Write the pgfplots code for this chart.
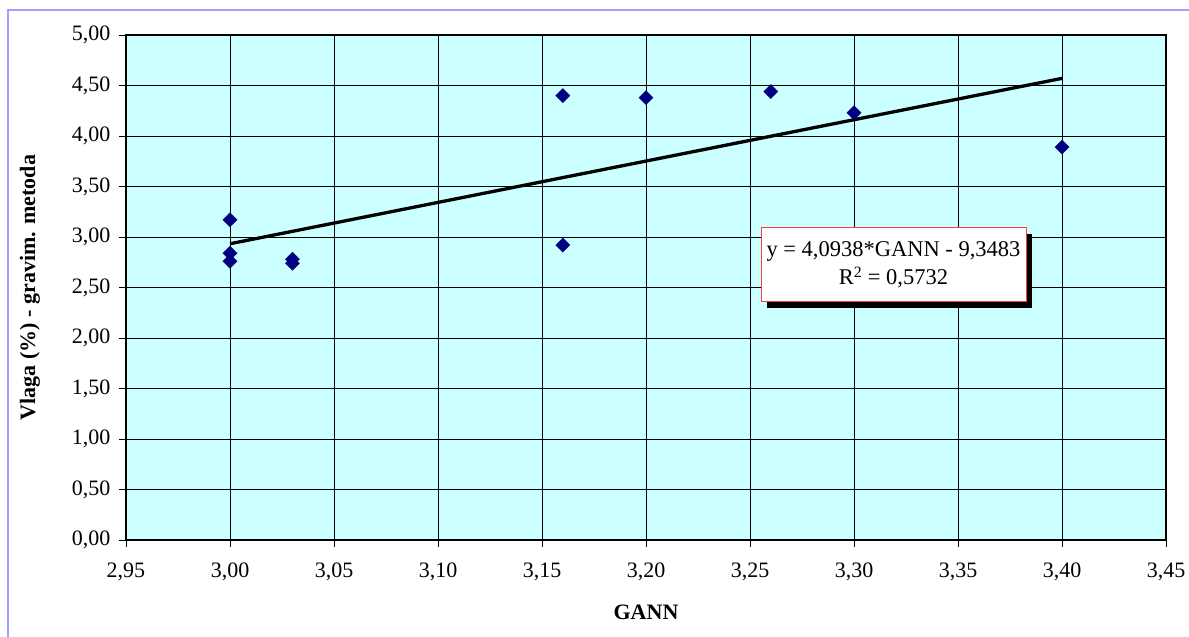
\documentclass[border=0pt]{standalone}
\usepackage{fontspec}
\setmainfont{Liberation Serif}
\usepackage{pgfplots}
\pgfplotsset{compat=1.18}
\usetikzlibrary{shadows}
\definecolor{bgcyan}{RGB}{204,255,255}
\definecolor{navy}{RGB}{0,0,128}
\definecolor{frame}{RGB}{160,160,255}
\definecolor{boxred}{RGB}{255,60,60}
\begin{document}
\fontsize{22}{26}\selectfont
\begin{tikzpicture}
\path[use as bounding box] (0pt,0pt) rectangle (1189pt,637pt);
\draw[frame, line width=1.5pt] (8pt,0pt) -- (8pt,627pt) -- (1189pt,627pt);
\begin{axis}[
  at={(126pt,97pt)}, anchor=south west,
  scale only axis, width=1040pt, height=505pt,
  xmin=2.95, xmax=3.45, ymin=0, ymax=5,
  xtick={2.95,3.00,...,3.451}, ytick={0,0.5,...,5.01},
  axis background/.style={fill=bgcyan},
  grid=major, major grid style={black, line width=0.9pt},
  axis line style={black, line width=1.3pt},
  tick align=outside, major tick length=7pt,
  tick style={black, line width=0.9pt},
  xtick pos=bottom, ytick pos=left,
  /pgf/number format/.cd, use comma, fixed, fixed zerofill, precision=2, assume math mode=true,
  /pgfplots/.cd,
  ticklabel style={font=\fontsize{22}{26}\selectfont},
  xticklabel style={yshift=-8pt},
  yticklabel style={xshift=-1pt},
  xlabel={\textbf{GANN}},
  ylabel={\textbf{Vlaga (\%) - gravim. metoda}},
  xlabel style={font=\fontsize{22}{26}\selectfont, at={(axis description cs:0.5,0)}, anchor=center, yshift=-72pt},
  ylabel style={font=\fontsize{22}{26}\selectfont, at={(axis description cs:0,0.5)}, anchor=center, yshift=96pt},
  clip=false,
]
\addplot[only marks, mark=square*, mark size=5pt, mark options={rotate=45, fill=navy, draw=navy}]
coordinates {
(3.00,3.17) (3.00,2.84) (3.00,2.76)
(3.03,2.78) (3.03,2.74)
(3.16,4.40) (3.16,2.92)
(3.20,4.38) (3.26,4.44) (3.30,4.23) (3.40,3.89)
};
\addplot[black, line width=3.3pt] coordinates {(3.00,2.9331) (3.40,4.5706)};
\node[draw=boxred, fill=white, line width=1pt, minimum width=265pt, minimum height=74pt,
  align=center, inner sep=2pt, font=\fontsize{22.5}{28}\selectfont,
  drop shadow={shadow xshift=6pt, shadow yshift=-6pt, fill=black, opacity=1}]
  at (axis cs:3.319,2.723)
  {y = 4,0938*GANN - 9,3483\\ R\textsuperscript{2} = 0,5732};
\end{axis}
\end{tikzpicture}
\end{document}
